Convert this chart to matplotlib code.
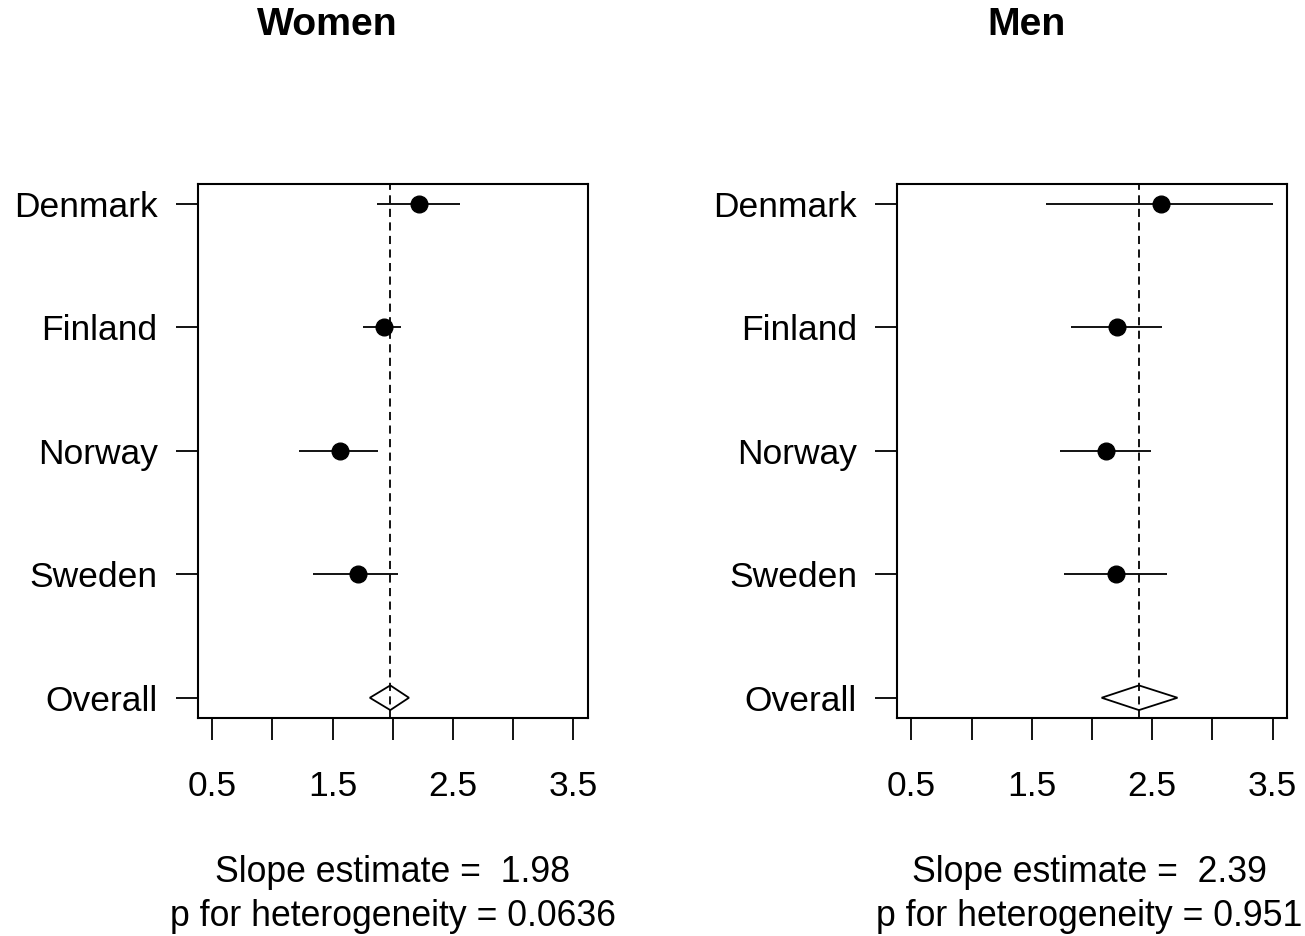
import numpy as np
import matplotlib.pyplot as plt

plt.rcParams['font.family'] = ['Liberation Sans', 'DejaVu Sans']

countries = ['Denmark', 'Finland', 'Norway', 'Sweden', 'Overall']
rows = [5, 4, 3, 2]

# Women
women_est = [2.215, 1.93, 1.56, 1.71]
women_lo = [1.87, 1.75, 1.22, 1.34]
women_hi = [2.555, 2.07, 1.88, 2.045]
women_overall = 1.98
women_overall_lo = 1.81
women_overall_hi = 2.135
women_p = '0.0636'

# Men
men_est = [2.57, 2.21, 2.12, 2.20]
men_lo = [1.62, 1.825, 1.735, 1.765]
men_hi = [3.505, 2.58, 2.49, 2.62]
men_overall = 2.39
men_overall_lo = 2.08
men_overall_hi = 2.71
men_p = '0.951'

xticks = [0.5, 1.0, 1.5, 2.0, 2.5, 3.0, 3.5]
xticklabels = ['0.5', '', '1.5', '', '2.5', '', '3.5']

W, H = 1305, 936
fig = plt.figure(figsize=(W / 100, H / 100), dpi=100)


def forest(left_px, title, est, lo, hi, ov, ov_lo, ov_hi, p, title_x, text_x):
    ax = fig.add_axes([left_px / W, 1 - 717.5 / H, 390 / W, 533.2 / H])
    ax.hlines(rows, lo, hi, color='black', lw=1.3)
    ax.plot(est, rows, 'o', ms=12, color='black')
    ax.axvline(ov, color='black', lw=1.3, dashes=(4.5, 3.0))
    ax.fill([ov_lo, ov, ov_hi, ov], [1, 1.1, 1, 0.9], fill=False,
            edgecolor='black', lw=1.3)
    ax.set_xlim(0.5 - 0.12, 3.5 + 0.12)
    ax.set_ylim(1 - 0.16, 5 + 0.16)
    ax.set_xticks(xticks)
    ax.set_xticklabels(xticklabels)
    ax.set_yticks([5, 4, 3, 2, 1])
    ax.set_yticklabels(countries)
    ax.tick_params(axis='both', length=15.8, width=1.3, direction='out',
                   labelsize=25.5, colors='black')
    ax.tick_params(axis='x', pad=22)
    ax.tick_params(axis='y', pad=13)
    for s in ax.spines.values():
        s.set_linewidth(1.5)
    fig.text(text_x / W, 1 - 872 / H, 'Slope estimate =  %.2f' % ov,
             ha='center', va='center', fontsize=25.7)
    fig.text(text_x / W, 1 - 917 / H, 'p for heterogeneity = ' + p,
             ha='center', va='center', fontsize=25.7)
    fig.text(title_x / W, 1 - 25 / H, title, ha='center', va='center',
             fontsize=28.3, fontweight='bold')
    return ax


forest(197.7, 'Women', women_est, women_lo, women_hi,
       women_overall, women_overall_lo, women_overall_hi, women_p, 327, 392.5)
forest(897, 'Men', men_est, men_lo, men_hi,
       men_overall, men_overall_lo, men_overall_hi, men_p, 1027, 1089)

fig.savefig('out.png', dpi=100)
